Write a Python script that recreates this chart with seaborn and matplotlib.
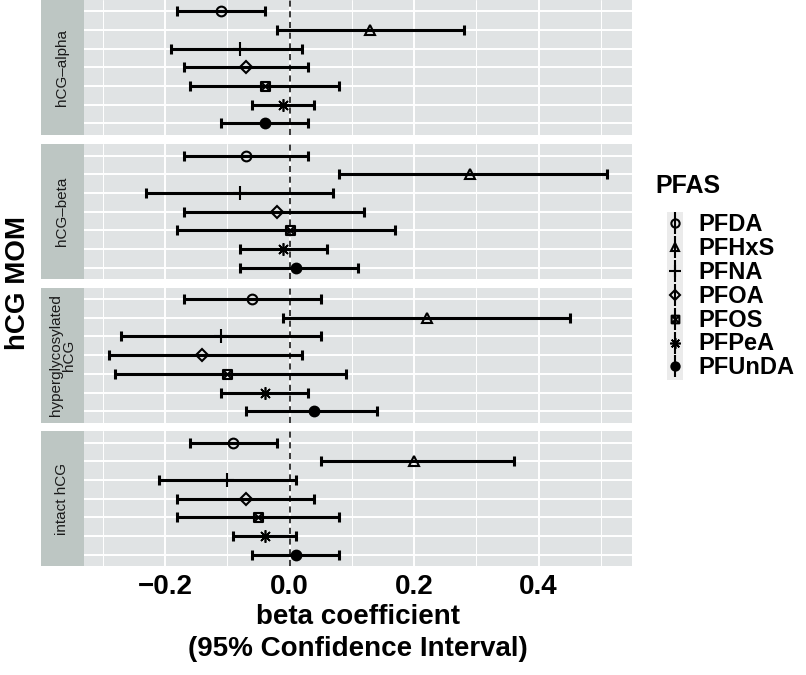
import matplotlib
matplotlib.use("Agg")
import matplotlib.pyplot as plt
import seaborn as sns
import numpy as np
import pandas as pd
from matplotlib.lines import Line2D
from matplotlib.path import Path
from matplotlib.patches import Rectangle

# data
outcomes = ["hCG-alpha", "hCG-beta", "hyperglycosylated hCG", "intact hCG"]
strip_labels = ["hCG\u2013alpha", "hCG\u2013beta", "hyperglycosylated\nhCG", "intact hCG"]
pfas = ["PFDA", "PFHxS", "PFNA", "PFOA", "PFOS", "PFPeA", "PFUnDA"]

alpha_est = [-0.11, 0.13, -0.08, -0.07, -0.04, -0.01, -0.04]
alpha_lo = [-0.18, -0.02, -0.19, -0.17, -0.16, -0.06, -0.11]
alpha_hi = [-0.04, 0.28, 0.02, 0.03, 0.08, 0.04, 0.03]

beta_est = [-0.07, 0.29, -0.08, -0.02, 0.00, -0.01, 0.01]
beta_lo = [-0.17, 0.08, -0.23, -0.17, -0.18, -0.08, -0.08]
beta_hi = [0.03, 0.51, 0.07, 0.12, 0.17, 0.06, 0.11]

hyper_est = [-0.06, 0.22, -0.11, -0.14, -0.10, -0.04, 0.04]
hyper_lo = [-0.17, -0.01, -0.27, -0.29, -0.28, -0.11, -0.07]
hyper_hi = [0.05, 0.45, 0.05, 0.02, 0.09, 0.03, 0.14]

intact_est = [-0.09, 0.20, -0.10, -0.07, -0.05, -0.04, 0.01]
intact_lo = [-0.16, 0.05, -0.21, -0.18, -0.18, -0.09, -0.06]
intact_hi = [-0.02, 0.36, 0.01, 0.04, 0.08, 0.01, 0.08]

rows = []
for name, est, lo, hi in [
    (outcomes[0], alpha_est, alpha_lo, alpha_hi),
    (outcomes[1], beta_est, beta_lo, beta_hi),
    (outcomes[2], hyper_est, hyper_lo, hyper_hi),
    (outcomes[3], intact_est, intact_lo, intact_hi),
]:
    for p, e, l, h in zip(pfas, est, lo, hi):
        rows.append({"outcome": name, "PFAS": p, "est": e, "lo": l, "hi": h})
df = pd.DataFrame(rows)

# ggplot-like shapes
sq_cross = Path(
    [(-1, -1), (1, -1), (1, 1), (-1, 1), (-1, -1), (-1, -1), (1, 1), (-1, 1), (1, -1)],
    [Path.MOVETO, Path.LINETO, Path.LINETO, Path.LINETO, Path.CLOSEPOLY,
     Path.MOVETO, Path.LINETO, Path.MOVETO, Path.LINETO],
)
shapes = {
    "PFDA": dict(marker="o", ms=7, mfc="none", mew=1.5),
    "PFHxS": dict(marker="^", ms=7.5, mfc="none", mew=1.5),
    "PFNA": dict(marker="+", ms=10, mfc="none", mew=1.5),
    "PFOA": dict(marker="D", ms=5.7, mfc="none", mew=1.5),
    "PFOS": dict(marker=sq_cross, ms=6.5, mfc="none", mew=1.5),
    "PFPeA": dict(marker=(8, 2, 0), ms=9, mfc="none", mew=1.2),
    "PFUnDA": dict(marker="o", ms=7, mfc="black", mew=1.5),
}

sns.set_theme(style="darkgrid")
plt.rcParams["font.family"] = ["Liberation Sans", "DejaVu Sans"]
plt.rcParams["text.color"] = "black"
plt.rcParams["xtick.color"] = "#333333"
plt.rcParams["xtick.labelcolor"] = "black"

panel_bg = "#E0E3E4"
strip_bg = "#BDC6C3"

W, H = 806, 675
fig = plt.figure(figsize=(W / 100, H / 100), dpi=100)
fig.patch.set_facecolor("white")


def rect(l, t, w, h):
    return [l / W, 1 - (t + h) / H, w / W, h / H]


xmin, xmax = df["lo"].min(), df["hi"].max()
pad = 0.05 * (xmax - xmin)
tops = [0, 144.3, 287.8, 431.3]
ph = 134.7

for i, (name, lab) in enumerate(zip(outcomes, strip_labels)):
    ax = fig.add_axes(rect(84, tops[i], 548, ph))
    ax.set_facecolor(panel_bg)
    ax.set_xlim(xmin - pad, xmax + pad)
    ax.set_ylim(0.4, 7.6)
    ax.set_xticks([-0.2, 0.0, 0.2, 0.4])
    ax.set_xticks([-0.3, -0.1, 0.1, 0.3, 0.5], minor=True)
    ax.set_yticks(range(1, 8))
    ax.set_yticklabels([])
    ax.grid(which="major", color="white", lw=1.4)
    ax.grid(which="minor", axis="x", color="white", lw=0.7)
    ax.set_axisbelow(True)
    for s in ax.spines.values():
        s.set_visible(False)
    ax.tick_params(axis="y", length=0)
    ax.tick_params(axis="x", which="minor", length=0)
    if i == 3:
        ax.tick_params(axis="x", which="major", length=4, width=1,
                       pad=2, labelsize=20)
        for t in ax.get_xticklabels():
            t.set_fontweight("bold")
    else:
        ax.tick_params(axis="x", which="major", length=0, labelbottom=False)

    ax.axvline(0, color="black", ls=(0, (4, 3)), lw=1.1, zorder=2)

    sub = df[df["outcome"] == name].reset_index(drop=True)
    for j, r in sub.iterrows():
        y = 7 - j
        ax.errorbar(r["est"], y, xerr=[[r["est"] - r["lo"]], [r["hi"] - r["est"]]],
                    fmt="none", ecolor="black", elinewidth=2.2, capsize=3.3,
                    capthick=2.2, zorder=3)
        st = shapes[r["PFAS"]]
        ax.plot(r["est"], y, marker=st["marker"], ms=st["ms"], mfc=st["mfc"],
                mec="black", mew=st["mew"], ls="none", zorder=4)

    sax = fig.add_axes(rect(40.7, tops[i], 43.3, ph))
    sax.set_facecolor(strip_bg)
    sax.set_xticks([])
    sax.set_yticks([])
    for s in sax.spines.values():
        s.set_visible(False)
    sax.text(0.5, 0.5, lab, rotation=90, ha="center", va="center",
             fontsize=11, color="#1A1A1A", linespacing=0.95,
             transform=sax.transAxes)

fig.text(18 / W, 1 - 283 / H, "hCG MOM", rotation=90, ha="center", va="center",
         fontsize=20, fontweight="bold")
fig.text(358 / W, 1 - 633 / H, "beta coefficient\n(95% Confidence Interval)",
         ha="center", va="center", fontsize=20, fontweight="bold", linespacing=1.3)

# legend
fig.patches.append(Rectangle((667 / W, 1 - 380 / H), 16 / W, 168 / H,
                             transform=fig.transFigure, facecolor="#EBEBEB",
                             edgecolor="none", zorder=0))
handles = []
for p in pfas:
    st = shapes[p]
    bar = Line2D([], [], marker="|", ms=16, mew=1.5, color="black", ls="none")
    pt = Line2D([], [], marker=st["marker"], ms=st["ms"] * 0.85, mfc=st["mfc"],
                mec="black", mew=st["mew"], ls="none")
    handles.append((bar, pt))
leg = fig.legend(handles, pfas, title="PFAS", loc="upper left",
                 bbox_to_anchor=(655 / W, 1 - 174 / H), frameon=False,
                 prop={"size": 17, "weight": "bold"}, handlelength=1.7,
                 handletextpad=0.13, labelspacing=0.035, borderaxespad=0,
                 borderpad=0, handleheight=0.6)
leg.get_title().set_fontsize(18)
leg.get_title().set_fontweight("bold")
leg._legend_box.align = "left"
leg._legend_box.sep = 11

fig.savefig("out.png", dpi=100)
